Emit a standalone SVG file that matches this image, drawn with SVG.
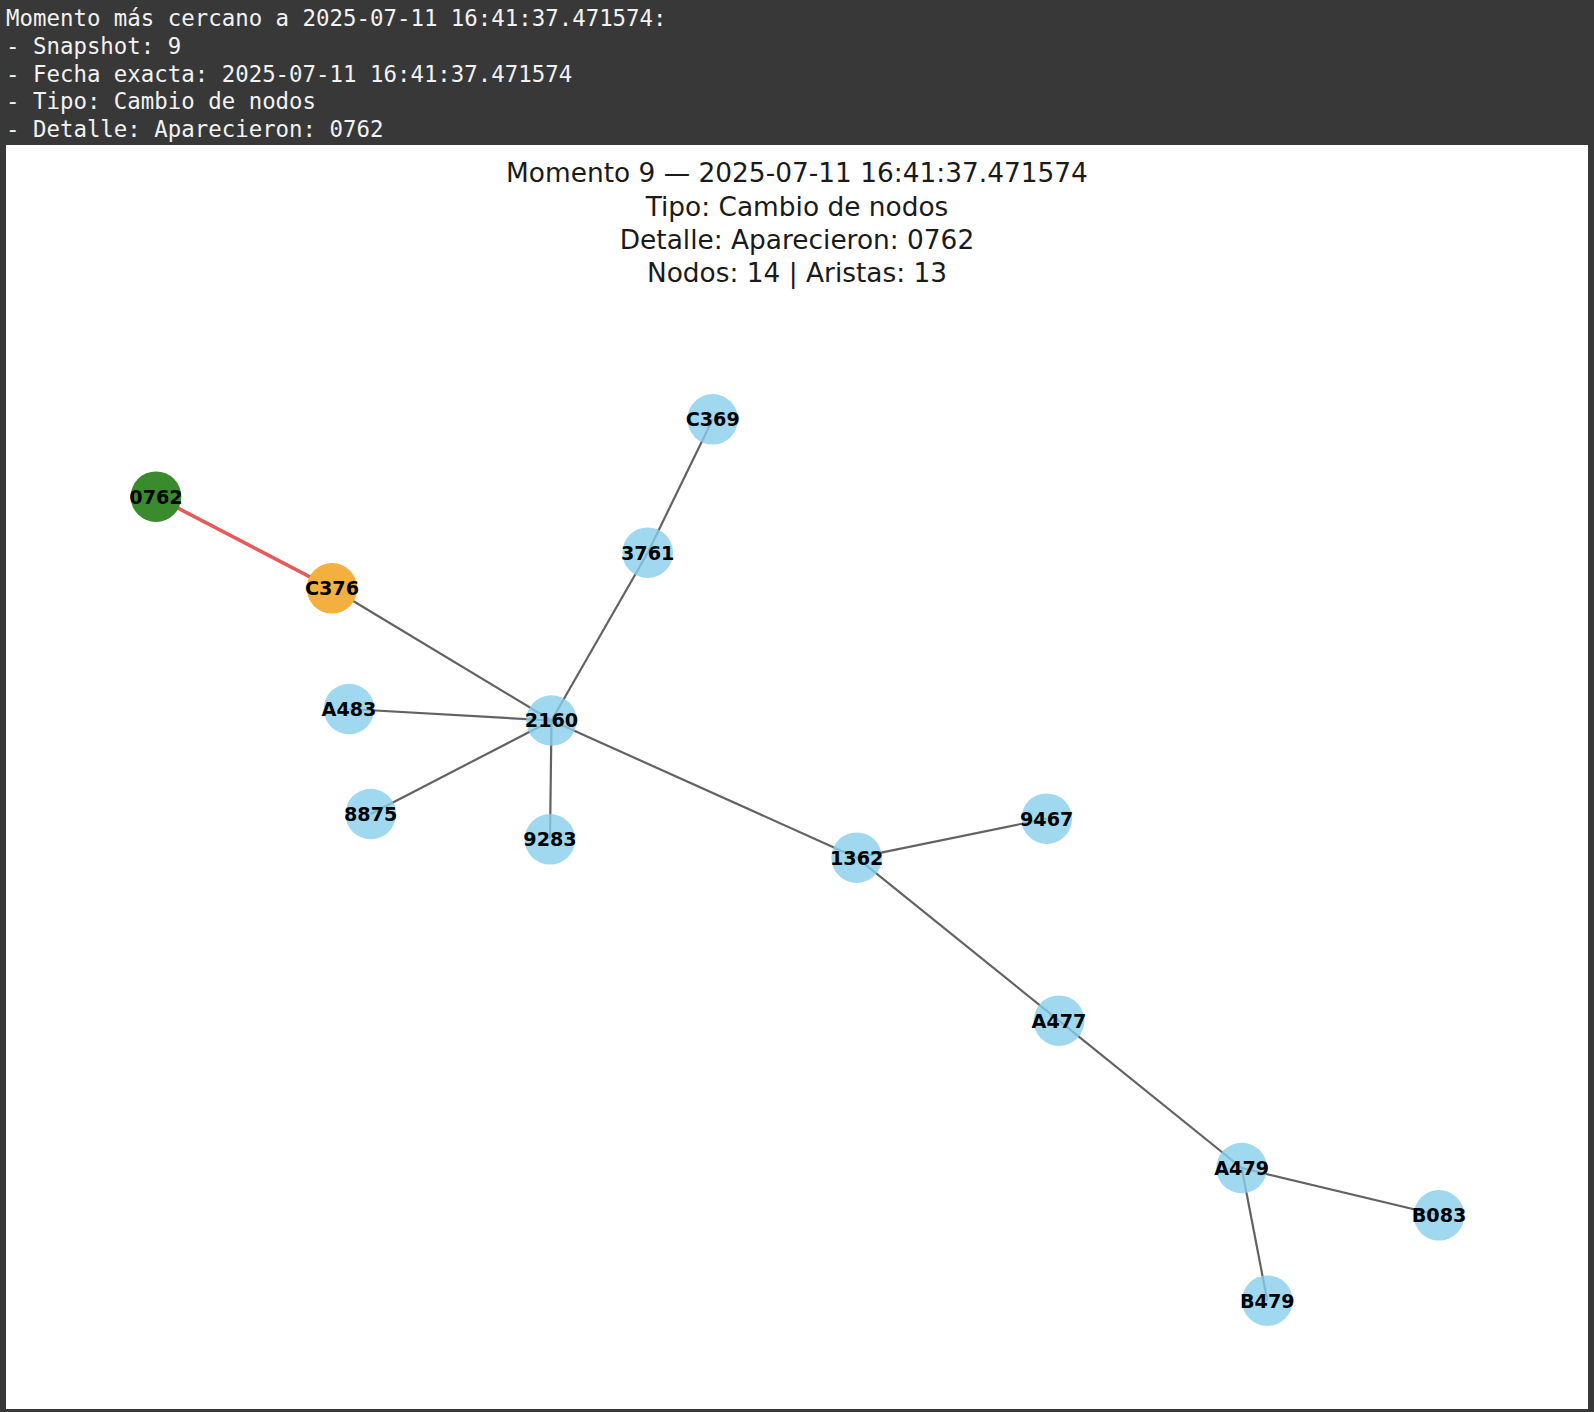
<svg xmlns="http://www.w3.org/2000/svg" width="1594" height="1412" viewBox="0 0 1594 1412">
<style>
.hdr{font-family:"DejaVu Sans Mono","Liberation Mono",monospace;font-size:22.4px;fill:#f2f2f2}
.ttl{font-family:"DejaVu Sans","Liberation Sans",sans-serif;font-size:26.4px;fill:#1a1a1a;text-anchor:middle}
.edge{stroke:#626262;stroke-width:2.2;fill:none}
.new{stroke:#e85a58;stroke-width:3.6;fill:none}
.n{fill:#87ceeb;fill-opacity:0.8}
.lbl{font-family:"DejaVu Sans","Liberation Sans",sans-serif;font-weight:bold;font-size:19.2px;fill:#000;text-anchor:middle}
</style>
<rect x="0" y="0" width="1594" height="1412" fill="#383838"/>
<g id="header">
<text class="hdr" x="6" y="26">Momento más cercano a 2025-07-11 16:41:37.471574:</text>
<text class="hdr" x="6" y="54">- Snapshot: 9</text>
<text class="hdr" x="6" y="81.5">- Fecha exacta: 2025-07-11 16:41:37.471574</text>
<text class="hdr" x="6" y="109">- Tipo: Cambio de nodos</text>
<text class="hdr" x="6" y="137">- Detalle: Aparecieron: 0762</text>
</g>
<rect x="6" y="145" width="1582" height="1264" fill="#ffffff"/>
<g id="title">
<text class="ttl" x="797" y="182">Momento 9 — 2025-07-11 16:41:37.471574</text>
<text class="ttl" x="797" y="215.5">Tipo: Cambio de nodos</text>
<text class="ttl" x="797" y="249">Detalle: Aparecieron: 0762</text>
<text class="ttl" x="797" y="282">Nodos: 14 | Aristas: 13</text>
</g>
<g id="edges">
<line class="edge" x1="712.7" y1="419.3" x2="647.7" y2="552.7"/>
<line class="edge" x1="647.7" y1="552.7" x2="551.5" y2="720.5"/>
<line class="edge" x1="332" y1="588.3" x2="551.5" y2="720.5"/>
<line class="edge" x1="349" y1="709" x2="551.5" y2="720.5"/>
<line class="edge" x1="370.7" y1="814" x2="551.5" y2="720.5"/>
<line class="edge" x1="550" y1="839.3" x2="551.5" y2="720.5"/>
<line class="edge" x1="551.5" y1="720.5" x2="856.7" y2="857.7"/>
<line class="edge" x1="856.7" y1="857.7" x2="1046.7" y2="818.7"/>
<line class="edge" x1="856.7" y1="857.7" x2="1059" y2="1020.7"/>
<line class="edge" x1="1059" y1="1020.7" x2="1241.7" y2="1168"/>
<line class="edge" x1="1241.7" y1="1168" x2="1439" y2="1215.3"/>
<line class="edge" x1="1241.7" y1="1168" x2="1267.3" y2="1300.7"/>
<line class="new" x1="156" y1="496.7" x2="332" y2="588.3"/>
</g>
<g id="node-C369"><circle class="n" cx="712.7" cy="419.3" r="25.3"/><text class="lbl" x="712.7" y="426.2">C369</text></g>
<g id="node-3761"><circle class="n" cx="647.7" cy="552.7" r="25.3"/><text class="lbl" x="647.7" y="559.6">3761</text></g>
<g id="node-0762"><circle cx="156" cy="496.7" r="25.3" fill="#3a8a2e"/><text class="lbl" x="156" y="503.6">0762</text></g>
<g id="node-C376"><circle cx="332" cy="588.3" r="25.3" fill="#f4b03e"/><text class="lbl" x="332" y="595.2">C376</text></g>
<g id="node-A483"><circle class="n" cx="349" cy="709" r="25.3"/><text class="lbl" x="349" y="715.9">A483</text></g>
<g id="node-2160"><circle class="n" cx="551.5" cy="720.5" r="25.3"/><text class="lbl" x="551.5" y="727.4">2160</text></g>
<g id="node-8875"><circle class="n" cx="370.7" cy="814" r="25.3"/><text class="lbl" x="370.7" y="820.9">8875</text></g>
<g id="node-9283"><circle class="n" cx="550" cy="839.3" r="25.3"/><text class="lbl" x="550" y="846.2">9283</text></g>
<g id="node-9467"><circle class="n" cx="1046.7" cy="818.7" r="25.3"/><text class="lbl" x="1046.7" y="825.6">9467</text></g>
<g id="node-1362"><circle class="n" cx="856.7" cy="857.7" r="25.3"/><text class="lbl" x="856.7" y="864.6">1362</text></g>
<g id="node-A477"><circle class="n" cx="1059" cy="1020.7" r="25.3"/><text class="lbl" x="1059" y="1027.6">A477</text></g>
<g id="node-A479"><circle class="n" cx="1241.7" cy="1168" r="25.3"/><text class="lbl" x="1241.7" y="1174.9">A479</text></g>
<g id="node-B083"><circle class="n" cx="1439" cy="1215.3" r="25.3"/><text class="lbl" x="1439" y="1222.2">B083</text></g>
<g id="node-B479"><circle class="n" cx="1267.3" cy="1300.7" r="25.3"/><text class="lbl" x="1267.3" y="1307.6">B479</text></g>
</svg>
